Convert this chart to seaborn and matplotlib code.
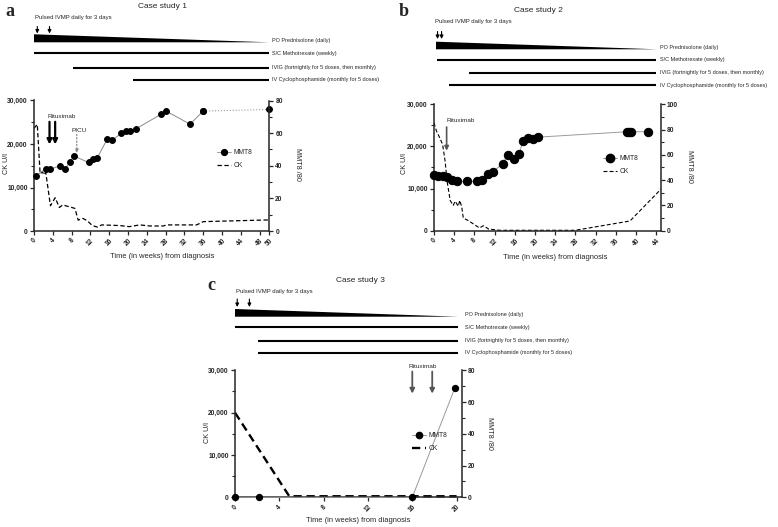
import numpy as np
import matplotlib
matplotlib.use("Agg")
import matplotlib.pyplot as plt
import seaborn as sns
from matplotlib.lines import Line2D
from matplotlib.ticker import MultipleLocator, FuncFormatter

W, H = 778, 527

# ---- Case study 1 ----
a_mmt8_weeks = [0.4, 2.5, 3.5, 5.6, 6.6, 7.6, 8.5, 11.6, 12.6, 13.5, 15.6, 16.6,
                18.6, 19.6, 20.5, 21.6, 27.0, 28.1, 33.2, 36.0, 50.0]
a_mmt8 = [34, 38, 38, 40, 38, 42, 46, 42, 44, 45, 56.5, 55.5,
          60, 61.5, 61.5, 62.5, 71.5, 73.5, 65.5, 73.5, 74.5]
a_ck_weeks = [0, 0.7, 1.3, 1.8, 2.1, 2.5, 3.5, 4.5, 5.4, 6.1, 8.7, 9.4, 10.4,
              11.4, 12.4, 13.5, 14.4, 18.3, 20.3, 22.5, 24.7, 27.5, 28.2, 34.6, 36.0, 50.0]
a_ck = [23600, 24500, 13200, 13600, 12900, 13500, 5800, 7650, 5400, 6000, 5200, 2500, 2900,
        2300, 1250, 900, 1400, 1250, 1000, 1400, 1150, 1150, 1400, 1400, 2150, 2550]
a_treat_start = [0, 0, 8.2, 21.1]
a_treat_end = [50, 50, 50, 50]
a_ivmp = [0.7, 3.3]
a_rituximab = [3.3, 4.5]
a_picu = [9.1]

# ---- Case study 2 ----
b_mmt8_weeks = [0, 0.7, 1.7, 2.6, 3.6, 4.6, 6.6, 8.6, 9.6, 10.6, 11.6, 13.6, 14.6,
                15.9, 16.9, 17.6, 18.6, 19.6, 20.6, 38.2, 38.7, 39.1, 42.4]
b_mmt8 = [44, 43.5, 43.5, 42.5, 40, 39, 39, 39, 40, 45, 46.5, 53, 60,
          56.5, 61, 71, 73, 72.3, 74, 78.3, 78.3, 78.3, 78.3]
b_ck_weeks = [0, 0.5, 1.0, 1.7, 2.2, 2.6, 3.2, 3.8, 4.2, 4.8, 5.1, 5.5, 5.8, 6.8,
              7.8, 9.0, 9.8, 10.8, 13.0, 28.0, 38.8, 44.9]
b_ck = [25600, 23600, 22400, 20500, 16500, 11700, 7200, 6000, 7000, 5800, 7200, 5600, 3000, 2400,
        1600, 650, 1200, 400, 100, 100, 2300, 9800]
b_treat_start = [0.4, 0.5, 6.9, 2.9]
b_treat_end = [44.2, 44, 44, 44]
b_ivmp = [0.7, 1.5]
b_rituximab = [2.5]

# ---- Case study 3 ----
c_mmt8_weeks = [0, 2.2, 16.0, 19.85]
c_mmt8 = [0, 0, 0, 69]
c_ck_weeks = [0, 4.9, 16.0, 20.0]
c_ck = [20000, 250, 250, 250]
c_treat_start = [0, 0, 2.1, 2.1]
c_treat_end = [20.15, 20.15, 20.15, 20.15]
c_ivmp = [0.2, 1.3]
c_rituximab = [16.0, 17.8]

treat_labels = ["PO Prednisolone (daily)", "S/C Methotrexate (weekly)",
                "IVIG (fortnightly for 5 doses, then monthly)",
                "IV Cyclophosphamide (monthly for 5 doses)"]

sns.set_style("ticks")
plt.rcParams['font.family'] = ['Liberation Sans', 'DejaVu Sans']
plt.rcParams['axes.linewidth'] = 1.1


def px_box(x0, y0, x1, y1):
    return [x0 / W, 1 - y1 / H, (x1 - x0) / W, (y1 - y0) / H]


def ftext(fig, x, y, s, **kw):
    fig.text(x / W, 1 - y / H, s, **kw)


def draw_treatments(fig, box, xmax, rows, starts, ends, ivmp, ivmp_rows):
    ax = fig.add_axes(px_box(*box))
    ax.set_xlim(0, xmax)
    ax.set_ylim(box[3], box[1])
    ax.axis("off")
    top, bot = rows[0]
    ax.fill([starts[0], ends[0], starts[0]], [top, bot, bot], color="black", lw=0)
    for r, s0, s1 in zip(rows[1:], starts[1:], ends[1:]):
        ax.plot([s0, s1], [r, r], color="black", lw=1.5, solid_capstyle="butt")
    trans = ax.get_yaxis_transform()
    dx = 3.0 / (box[2] - box[0])
    label_rows = [rows[0][1] - 2] + list(rows[1:])
    for lab, r in zip(treat_labels, label_rows):
        ax.text(1 + dx, r, lab, transform=trans, fontsize=4.0, va="center", ha="left")
    for w in ivmp:
        ax.annotate("", xy=(w, ivmp_rows[1]), xytext=(w, ivmp_rows[0]),
                    arrowprops=dict(arrowstyle="-|>", color="black", lw=0.8,
                                    mutation_scale=5, shrinkA=0, shrinkB=0))
    return ax


def draw_plot(fig, box, xmax, xticks, ck_x, ck_y, mm_x, mm_y, right_max, ck_lw, ms, legend_xy,
              dotted_tail=False):
    ax = fig.add_axes(px_box(*box))
    ax2 = ax.twinx()
    dash = (0, (3.5, 2))
    sns.lineplot(x=ck_x, y=ck_y, ax=ax, color="black", linestyle=dash, lw=ck_lw,
                 estimator=None, sort=False, clip_on=False)
    if dotted_tail:
        sns.lineplot(x=mm_x[:-1], y=mm_y[:-1], ax=ax2, color="#8a8a8a", lw=0.7, marker="o",
                     markersize=ms, markerfacecolor="black", markeredgecolor="black",
                     estimator=None, sort=False, clip_on=False)
        sns.lineplot(x=mm_x[-2:], y=mm_y[-2:], ax=ax2, color="#9a9a9a", lw=0.8, linestyle=":",
                     marker="o", markersize=ms, markerfacecolor="black",
                     markeredgecolor="black", estimator=None, sort=False, clip_on=False)
    else:
        sns.lineplot(x=mm_x, y=mm_y, ax=ax2, color="#9a9a9a", lw=0.7, marker="o",
                     markersize=ms, markerfacecolor="black", markeredgecolor="black",
                     estimator=None, sort=False, clip_on=False)

    ax.set_xlim(0, xmax)
    ax.set_ylim(0, 30000)
    ax2.set_ylim(0, right_max)
    ax.set_xticks(xticks)
    ax.set_xticklabels([str(t) for t in xticks], rotation=45, ha="center",
                       fontsize=4.8, fontweight="bold")
    ax.yaxis.set_major_locator(MultipleLocator(10000))
    ax.yaxis.set_minor_locator(MultipleLocator(5000))
    ax.yaxis.set_major_formatter(FuncFormatter(lambda v, p: f"{int(v):,}"))
    ax2.yaxis.set_major_locator(MultipleLocator(20))
    ax2.yaxis.set_minor_locator(MultipleLocator(10))
    for a in (ax, ax2):
        a.tick_params(axis="both", which="major", length=3, width=0.9, pad=1.5)
        a.tick_params(axis="both", which="minor", length=2, width=0.8)
        a.set_xlabel("")
        a.set_ylabel("")
        for lab in a.get_yticklabels():
            lab.set_fontsize(4.8)
            lab.set_fontweight("bold")
    ax.spines["top"].set_visible(False)
    ax.spines["right"].set_visible(False)
    for s in ("top", "left", "bottom"):
        ax2.spines[s].set_visible(False)
    ax2.spines["right"].set_linewidth(1.1)

    handles = [Line2D([], [], color="#9a9a9a", lw=0.7, marker="o", ms=ms, mfc="black", mec="black"),
               Line2D([], [], color="black", ls=dash, lw=ck_lw)]
    ax2.legend(handles, ["MMT8", "CK"], loc="center left",
               bbox_to_anchor=(legend_xy[0] / W, 1 - legend_xy[1] / H),
               bbox_transform=fig.transFigure, frameon=False, fontsize=4.9,
               handlelength=2.0, handletextpad=0.4, borderpad=0, borderaxespad=0,
               labelspacing=0.9)
    return ax, ax2


def arrow(ax, w, y0, y1, color="black", lw=1.5, ls="-", head=6):
    ax.annotate("", xy=(w, y1), xytext=(w, y0),
                arrowprops=dict(arrowstyle="-|>", color=color, lw=lw, linestyle=ls,
                                mutation_scale=head, shrinkA=0, shrinkB=0))


fig = plt.figure(figsize=(W / 100, H / 100), dpi=100)

# ---------- panel a ----------
ftext(fig, 10, 12, "a", fontsize=13, fontweight="bold", family="Liberation Serif", ha="center", va="center")
ftext(fig, 163, 6, "Case study 1", fontsize=6, ha="center", va="center")
ftext(fig, 35, 17, "Pulsed IVMP daily for 3 days", fontsize=4.3, ha="left", va="center")
draw_treatments(fig, (34, 0, 269, 95), 50, [(34.3, 42.3), 53, 68, 80],
                a_treat_start, a_treat_end, a_ivmp, (26.5, 33.5))
ax, ax2 = draw_plot(fig, (34, 100.5, 269, 231), 50, list(range(0, 49, 4)) + [50],
                    a_ck_weeks, a_ck, a_mmt8_weeks, a_mmt8, 80, 0.9, 4.2, (217, 159),
                    dotted_tail=True)
for w in a_rituximab:
    arrow(ax, w, 25100, 19900, color="black", lw=1.6, head=7)
for w in a_picu:
    arrow(ax, w, 22200, 17900, color="#8a8a8a", lw=0.9, ls=":", head=5)
ftext(fig, 47, 117, "Rituximab", fontsize=4.6, ha="left", va="center")
ftext(fig, 72, 131, "PICU", fontsize=4.6, ha="left", va="center")
ftext(fig, 162, 257, "Time (in weeks) from diagnosis", fontsize=5.4, ha="center", va="center")
ftext(fig, 6, 164, "CK U/l", fontsize=5.2, rotation=90, ha="center", va="center")
ftext(fig, 298, 164, "MMT8 /80", fontsize=5.2, rotation=270, ha="center", va="center")

# ---------- panel b ----------
ftext(fig, 404, 12, "b", fontsize=13, fontweight="bold", family="Liberation Serif", ha="center", va="center")
ftext(fig, 538, 10, "Case study 2", fontsize=6, ha="center", va="center")
ftext(fig, 435, 21, "Pulsed IVMP daily for 3 days", fontsize=4.3, ha="left", va="center")
bx_max = (660.7 - 434) / 5.05
draw_treatments(fig, (434, 0, 657, 95), (657 - 434) / 5.05, [(41.7, 49.3), 60, 72.7, 85],
                b_treat_start, b_treat_end, b_ivmp, (31.5, 39))
ax, ax2 = draw_plot(fig, (434, 104.3, 660.7, 230.7), bx_max, list(range(0, 45, 4)),
                    b_ck_weeks, b_ck, b_mmt8_weeks, b_mmt8, 100, 0.8, 6.0, (603, 165))
for w in b_rituximab:
    arrow(ax, w, 24600, 19000, color="#555555", lw=1.2, head=6)
ftext(fig, 447, 121, "Rituximab", fontsize=4.6, ha="left", va="center")
ftext(fig, 555, 258, "Time (in weeks) from diagnosis", fontsize=5.4, ha="center", va="center")
ftext(fig, 405, 164, "CK U/l", fontsize=5.2, rotation=90, ha="center", va="center")
ftext(fig, 689, 166, "MMT8 /80", fontsize=5.2, rotation=270, ha="center", va="center")

# ---------- panel c ----------
ftext(fig, 211, 285, "c", fontsize=13, fontweight="bold", family="Liberation Serif", ha="center", va="center")
ftext(fig, 360, 280, "Case study 3", fontsize=6, ha="center", va="center")
ftext(fig, 236, 292, "Pulsed IVMP daily for 3 days", fontsize=4.3, ha="left", va="center")
cx_max = (461.7 - 235) / 11.08
draw_treatments(fig, (235, 275, 461.7, 365), cx_max, [(309, 316.7), 327.3, 340.7, 352.7],
                c_treat_start, c_treat_end, c_ivmp, (299, 307))
ax, ax2 = draw_plot(fig, (235, 370.3, 461.7, 497.3), cx_max, list(range(0, 21, 4)),
                    c_ck_weeks, c_ck, c_mmt8_weeks, c_mmt8, 80, 1.7, 4.5, (412, 442))
for w in c_rituximab:
    arrow(ax, w, 29700, 24500, color="#555555", lw=1.3, head=7)
ftext(fig, 423, 366, "Rituximab", fontsize=4.6, ha="center", va="center")
ftext(fig, 358, 520, "Time (in weeks) from diagnosis", fontsize=5.4, ha="center", va="center")
ftext(fig, 208, 433, "CK U/l", fontsize=5.2, rotation=90, ha="center", va="center")
ftext(fig, 490, 433, "MMT8 /80", fontsize=5.2, rotation=270, ha="center", va="center")

fig.savefig("out.png", dpi=100)
